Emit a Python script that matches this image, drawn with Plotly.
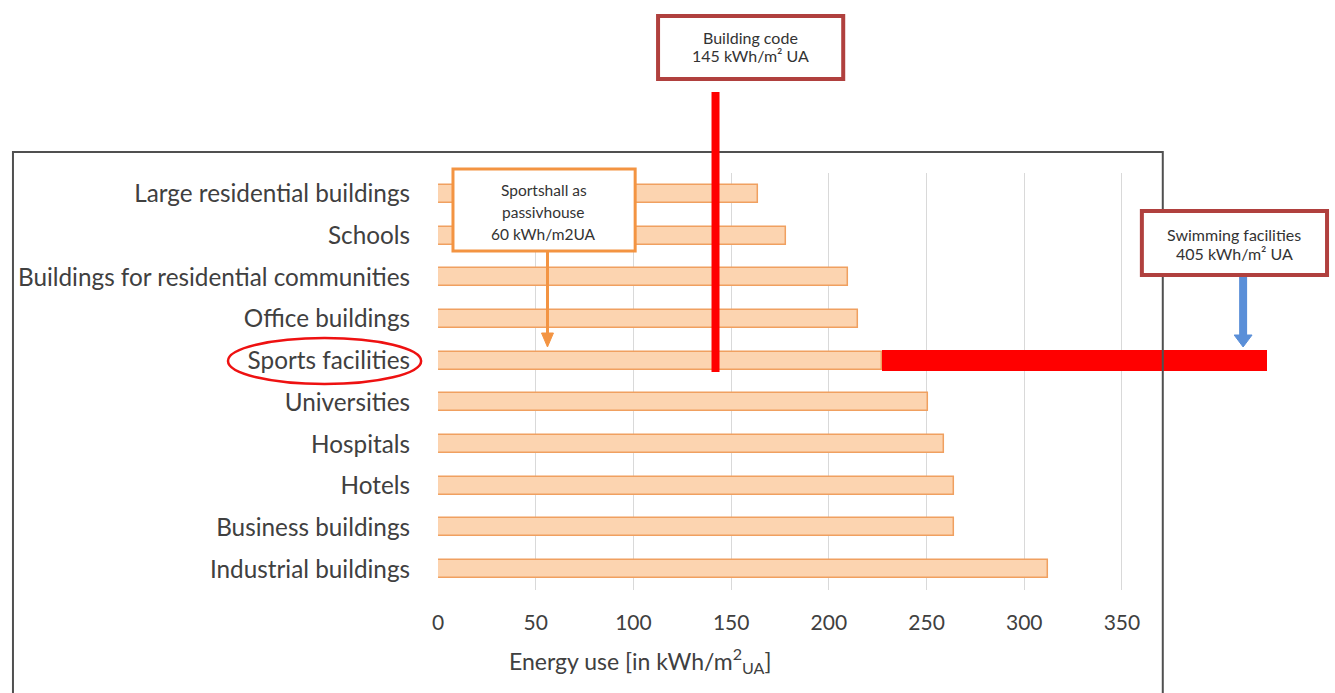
import plotly.graph_objects as go

W, H = 1335, 693

categories = ["Large residential buildings", "Schools", "Buildings for residential communities",
              "Office buildings", "Sports facilities", "Universities", "Hospitals", "Hotels",
              "Business buildings", "Industrial buildings"]
energy_use = [164, 178, 210, 215, 227, 251, 259, 264, 264, 312]

swimming_category = ["Sports facilities"]
swimming_base = [227]
swimming_extra = [197]   # red bar reaching ~424

building_code_x = 142
passivhouse_x = 56
swimming_arrow_x = 412

tick_vals = [0, 50, 100, 150, 200, 250, 300, 350]

box_building_code = ["Building code", "145 kWh/m² UA"]
box_passivhouse = ["Sportshall as", "passivhouse", "60 kWh/m2UA"]
box_swimming = ["Swimming facilities", "405 kWh/m² UA"]
axis_title = "Energy use [in kWh/m<sup>2</sup><sub>UA</sub>]"

# pixel geometry helpers
X0_PX = 434.0
PX_PER_UNIT = (1121.0 - 434.0) / 350.0
XMAX = 440.0

def px(x):
    return x / W

def py(y):
    return 1 - y / H

def xdata_px(v):
    return X0_PX + v * PX_PER_UNIT

TXT = "#404040"
FONT = "Lato"

fig = go.Figure()
fig.add_trace(go.Bar(
    y=categories, x=energy_use, orientation="h", width=0.43,
    marker=dict(color="#fcd4b0", line=dict(color="#f0a060", width=1.5)),
    hoverinfo="x+y", showlegend=False,
))
fig.add_trace(go.Bar(
    y=swimming_category, x=swimming_extra, base=swimming_base, orientation="h", width=0.5,
    marker=dict(color="#ff0000", line=dict(width=0)),
    showlegend=False,
))

shapes = []
# outer frame
shapes.append(dict(type="rect", xref="paper", yref="paper", x0=px(7), x1=px(1162), y0=-0.05, y1=py(152),
                   line=dict(color="#505050", width=2), fillcolor="rgba(0,0,0,0)", layer="above"))
# building code line
shapes.append(dict(type="line", xref="x", yref="paper", x0=building_code_x, x1=building_code_x,
                   y0=py(372), y1=py(92), line=dict(color="#ff0000", width=8), layer="above"))
# boxes
shapes.append(dict(type="rect", xref="paper", yref="paper", x0=px(655), x1=px(841), y0=py(79), y1=py(16),
                   line=dict(color="#b0403e", width=4), fillcolor="white", layer="above"))
shapes.append(dict(type="rect", xref="paper", yref="paper", x0=px(449), x1=px(632), y0=py(251), y1=py(169),
                   line=dict(color="#f39442", width=3), fillcolor="white", layer="above"))
shapes.append(dict(type="rect", xref="paper", yref="paper", x0=px(1141), x1=px(1327), y0=py(275), y1=py(211),
                   line=dict(color="#b0403e", width=4), fillcolor="white", layer="above"))
# ellipse around Sports facilities
shapes.append(dict(type="circle", xref="paper", yref="paper", x0=px(223), x1=px(417), y0=py(384), y1=py(338),
                   line=dict(color="#ee1111", width=2.5), layer="above"))


def arrow(xc_px, y_top, y_tip, shaft_w, head_w, head_h, color):
    shapes.append(dict(type="line", xref="paper", yref="paper", x0=px(xc_px), x1=px(xc_px),
                       y0=py(y_top), y1=py(y_tip - head_h + 1), line=dict(color=color, width=shaft_w),
                       layer="above"))
    path = "M {:.5f},{:.5f} L {:.5f},{:.5f} L {:.5f},{:.5f} Z".format(
        px(xc_px - head_w / 2), py(y_tip - head_h), px(xc_px + head_w / 2), py(y_tip - head_h),
        px(xc_px), py(y_tip))
    shapes.append(dict(type="path", xref="paper", yref="paper", path=path, fillcolor=color,
                       line=dict(color=color, width=1), layer="above"))


arrow(xdata_px(passivhouse_x), 252, 347, 3, 12, 14, "#f39442")
arrow(xdata_px(swimming_arrow_x), 277, 347, 8, 18, 12, "#5a8fd8")

annotations = []


def add_lines(lines, xc, ys, size):
    for t, yy in zip(lines, ys):
        annotations.append(dict(xref="paper", yref="paper", x=px(xc), y=py(yy), text=t,
                                xanchor="center", yanchor="middle", showarrow=False,
                                font=dict(family=FONT, size=size, color="#333333")))


add_lines(box_building_code, 748, [37, 56], 16)
add_lines(box_passivhouse, 540, [190, 212, 234], 15.5)
add_lines(box_swimming, 1234, [234, 253], 16)

annotations.append(dict(xref="paper", yref="paper", x=px(637), y=py(660), text=axis_title,
                        xanchor="center", yanchor="middle", showarrow=False,
                        font=dict(family=FONT, size=23, color=TXT)))

fig.update_layout(
    width=W, height=H, margin=dict(l=0, r=0, t=0, b=0),
    paper_bgcolor="white", plot_bgcolor="white",
    barmode="overlay", bargap=0,
    shapes=shapes, annotations=annotations,
    font=dict(family=FONT, color=TXT),
    xaxis=dict(
        domain=[X0_PX / W, xdata_px(XMAX) / W], range=[0, XMAX],
        tickvals=tick_vals, ticktext=[str(v) for v in tick_vals],
        showgrid=True, gridcolor="#d9d9d9", gridwidth=1, zeroline=False,
        showline=False, ticks="", tickfont=dict(family=FONT, size=21, color=TXT),
        ticklabelstandoff=18,
    ),
    yaxis=dict(
        domain=[py(590), py(173)],
        categoryorder="array", categoryarray=categories, autorange="reversed",
        showgrid=False, zeroline=False, showline=False, ticks="",
        tickfont=dict(family=FONT, size=24.3, color=TXT), ticklabelstandoff=27,
    ),
)

fig.write_html("out.html", config={"displayModeBar": False},
               post_script="document.body.style.margin='0';document.body.style.overflow='hidden';")
